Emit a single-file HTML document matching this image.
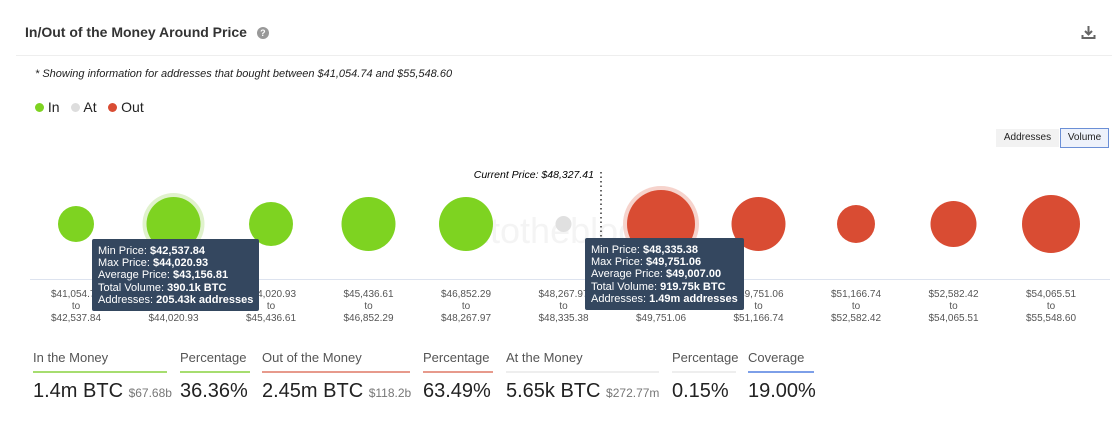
<!DOCTYPE html>
<html><head><meta charset="utf-8"><style>
body{margin:0;width:1118px;height:435px;background:#fff;font-family:"Liberation Sans",sans-serif;position:relative;overflow:hidden;color:#222}
.a{position:absolute}
.tt{position:absolute;background:#34475f;color:#fff;font-size:11px;line-height:12.2px;padding:6px 6px 5px;border-radius:2px;white-space:nowrap}
.tt b{font-weight:bold}
.sl{font-size:13px;color:#555;position:absolute;top:350px}
.bar{position:absolute;top:371px;height:2px}
.sv{position:absolute;top:380px;font-size:20px;color:#222}
.sv small{font-size:12px;color:#777}
</style></head><body>
<div class="a" style="left:25px;top:24px;font-size:14px;font-weight:bold;color:#333">In/Out of the Money Around Price <span style="display:inline-block;width:12px;height:12px;border-radius:50%;background:#999;color:#fff;font-size:9px;text-align:center;line-height:12px;margin-left:6px;vertical-align:1px">?</span></div>
<svg class="a" style="left:1081px;top:25px" width="15" height="15"><path d="M7.5 1v8M4 6l3.5 3.5L11 6M1.5 10v3h12v-3" stroke="#666" stroke-width="2" fill="none"/></svg>
<div class="a" style="left:16px;top:55px;width:1096px;height:1px;background:#eee"></div>
<div class="a" style="left:35px;top:68px;font-size:11px;font-style:italic">* Showing information for addresses that bought between $41,054.74 and $55,548.60</div>
<div class="a" style="left:35px;top:99px;font-size:14px">
<span><span style="display:inline-block;width:9px;height:9px;border-radius:50%;background:#7ed321"></span> In</span>&nbsp;&nbsp;
<span><span style="display:inline-block;width:9px;height:9px;border-radius:50%;background:#ddd"></span> At</span>&nbsp;&nbsp;
<span><span style="display:inline-block;width:9px;height:9px;border-radius:50%;background:#d94c33"></span> Out</span></div>
<div class="a" style="left:996px;top:129px;width:63px;height:18px;background:#f2f2f2;font-size:10px;text-align:center;line-height:18px">Addresses</div>
<div class="a" style="left:1060px;top:128px;width:47px;height:18px;border:1px solid #6b8fd6;background:#eef2fb;font-size:10px;text-align:center;line-height:18px">Volume</div>
<svg class="a" style="left:0;top:0" width="1118" height="435" id="chart">
<text x="462" y="243" font-size="36" fill="#f4f4f4" font-family="Liberation Sans">intotheblock</text>
<line x1="30" y1="279.5" x2="1110" y2="279.5" stroke="#dde3ef"/>
<line x1="601" y1="172" x2="601" y2="279" stroke="#333" stroke-dasharray="1.5,3" stroke-width="1.5"/>
<text x="594" y="178" font-size="10.5" font-style="italic" text-anchor="end" font-family="Liberation Sans">Current Price: $48,327.41</text>
</svg>
<div class="tt" style="left:92px;top:239px">Min Price: <b>$42,537.84</b><br>Max Price: <b>$44,020.93</b><br>Average Price: <b>$43,156.81</b><br>Total Volume: <b>390.1k BTC</b><br>Addresses: <b>205.43k addresses</b></div>
<div class="tt" style="left:585px;top:238px">Min Price: <b>$48,335.38</b><br>Max Price: <b>$49,751.06</b><br>Average Price: <b>$49,007.00</b><br>Total Volume: <b>919.75k BTC</b><br>Addresses: <b>1.49m addresses</b></div>

<div class="sl" style="left:33px">In the Money</div>
<div class="bar" style="left:33px;width:134px;background:#a6dd6f"></div>
<div class="sv" style="left:33px">1.4m BTC <small>$67.68b</small></div>
<div class="sl" style="left:180px">Percentage</div>
<div class="bar" style="left:180px;width:70px;background:#a6dd6f"></div>
<div class="sv" style="left:180px">36.36%</div>
<div class="sl" style="left:262px">Out of the Money</div>
<div class="bar" style="left:262px;width:148px;background:#e79a8c"></div>
<div class="sv" style="left:262px">2.45m BTC <small>$118.2b</small></div>
<div class="sl" style="left:423px">Percentage</div>
<div class="bar" style="left:423px;width:70px;background:#e79a8c"></div>
<div class="sv" style="left:423px">63.49%</div>
<div class="sl" style="left:506px">At the Money</div>
<div class="bar" style="left:506px;width:153px;background:#eee"></div>
<div class="sv" style="left:506px">5.65k BTC <small>$272.77m</small></div>
<div class="sl" style="left:672px">Percentage</div>
<div class="bar" style="left:672px;width:64px;background:#eee"></div>
<div class="sv" style="left:672px">0.15%</div>
<div class="sl" style="left:748px">Coverage</div>
<div class="bar" style="left:748px;width:66px;background:#7d9fe8"></div>
<div class="sv" style="left:748px">19.00%</div>
<script>
const lows=["$41,054.74","$42,537.84","$44,020.93","$45,436.61","$46,852.29","$48,267.97","$48,335.38","$49,751.06","$51,166.74","$52,582.42","$54,065.51"];
const highs=["$42,537.84","$44,020.93","$45,436.61","$46,852.29","$48,267.97","$48,335.38","$49,751.06","$51,166.74","$52,582.42","$54,065.51","$55,548.60"];
const volumes=[258,580,385,580,580,51,920,580,287,421,669];
const status=["in","in","in","in","in","at","out","out","out","out","out"];
const highlighted=[1,6];
const svg=document.getElementById('chart');
const NS='http://www.w3.org/2000/svg';
const colors={in:'#7ed321',at:'#e0e0e0',out:'#d94c33'};
const halo={in:'#e0f2cc',at:'#eee',out:'#f6d3cc'};
const xPos=i=>76+i*97.5;
const rScale=v=>34*Math.sqrt(v/Math.max(...volumes));
const cy=224;
volumes.forEach((v,i)=>{
 const r=rScale(v);
 if(highlighted.includes(i)){
  const h=document.createElementNS(NS,'circle');
  h.setAttribute('cx',xPos(i));h.setAttribute('cy',cy);h.setAttribute('r',r+4);h.setAttribute('fill',halo[status[i]]);
  
  
  svg.insertBefore(h,svg.children[1]);
 }
 const c=document.createElementNS(NS,'circle');
 c.setAttribute('cx',xPos(i));c.setAttribute('cy',cy);c.setAttribute('r',r);c.setAttribute('fill',colors[status[i]]);
 
 
 svg.appendChild(c);
 [lows[i],'to',highs[i]].forEach((t,k)=>{
  const tx=document.createElementNS(NS,'text');
  tx.setAttribute('x',xPos(i));tx.setAttribute('y',297+k*12);tx.setAttribute('font-size','10');
  tx.setAttribute('text-anchor','middle');tx.setAttribute('fill','#555');tx.setAttribute('font-family','Liberation Sans');
  tx.textContent=t;
  
  
  svg.appendChild(tx);
 });
});
</script>
</body></html>
